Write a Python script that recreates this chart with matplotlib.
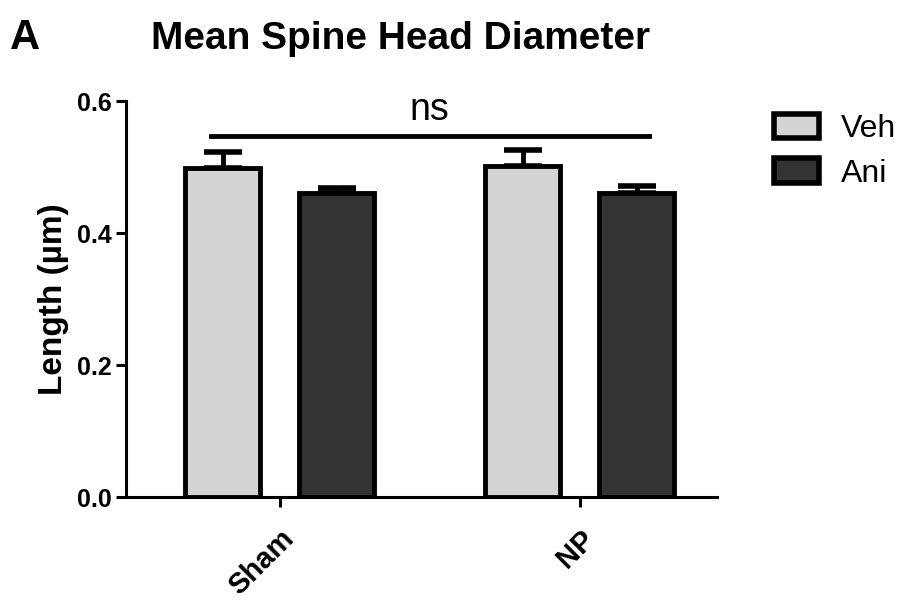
import numpy as np
import matplotlib.pyplot as plt
from matplotlib.patches import Patch

plt.rcParams['font.family'] = ['Liberation Sans', 'DejaVu Sans']

groups = ['Sham', 'NP']
treatments = ['Veh', 'Ani']
means = {'Veh': [0.498, 0.501], 'Ani': [0.460, 0.460]}
sems = {'Veh': [0.025, 0.025], 'Ani': [0.008, 0.011]}
colors = {'Veh': '#d3d3d3', 'Ani': '#333333'}
ns_y = 0.547

fig = plt.figure(figsize=(9.04, 6.05), dpi=100)
ax = fig.add_axes([0.1394, 0.1785, 0.6536, 0.6545])

x = np.arange(len(groups))
width = 0.25
offsets = {'Veh': -0.19, 'Ani': 0.19}
for t in treatments:
    xs = x + offsets[t]
    ax.bar(xs, means[t], width, color=colors[t], edgecolor='black', linewidth=3.5, zorder=2)
    # upper error bars only
    ax.errorbar(xs, means[t], yerr=[np.zeros(len(xs)), sems[t]], fmt='none',
                ecolor='black', elinewidth=3.5, capsize=14, capthick=4, zorder=1)

ax.set_xlim(-0.513, 1.457)
ax.set_ylim(0, 0.6)
ax.set_yticks([0.0, 0.2, 0.4, 0.6])
ax.set_yticklabels(['0.0', '0.2', '0.4', '0.6'], fontsize=18, fontweight='bold')
ax.set_xticks(x)
ax.set_xticklabels(groups, fontsize=21, fontweight='bold', rotation=45,
                   ha='right', va='top', rotation_mode='anchor')
for s in ['top', 'right']:
    ax.spines[s].set_visible(False)
for s in ['left', 'bottom']:
    ax.spines[s].set_linewidth(2.2)
ax.tick_params(axis='y', width=2.2, length=7, pad=3)
ax.tick_params(axis='x', width=2.2, length=7, pad=13)
for lbl in ax.get_xticklabels():
    lbl.set_x(lbl.get_position()[0])
ax.set_ylabel('Length (µm)', fontsize=24, fontweight='bold', labelpad=6)

# significance bar across the groups
ax.plot([-0.23, 1.23], [ns_y, ns_y], color='black', lw=3.5, clip_on=False)
ax.text(0.5, ns_y + 0.012, 'ns', ha='center', va='bottom', fontsize=27)

fig.text(0.443, 0.935, 'Mean Spine Head Diameter', ha='center', va='center',
         fontsize=28, fontweight='bold')
fig.text(0.011, 0.937, 'A', ha='left', va='center', fontsize=30, fontweight='bold')

handles = [Patch(facecolor=colors[t], edgecolor='black', linewidth=4, label=t)
           for t in treatments]
fig.legend(handles=handles, loc='upper left', bbox_to_anchor=(0.856, 0.812),
           frameon=False, fontsize=23, handlelength=1.4, handleheight=0.8,
           labelspacing=0.45, handletextpad=0.7, borderpad=0, borderaxespad=0)

fig.savefig('out.png', dpi=100)
